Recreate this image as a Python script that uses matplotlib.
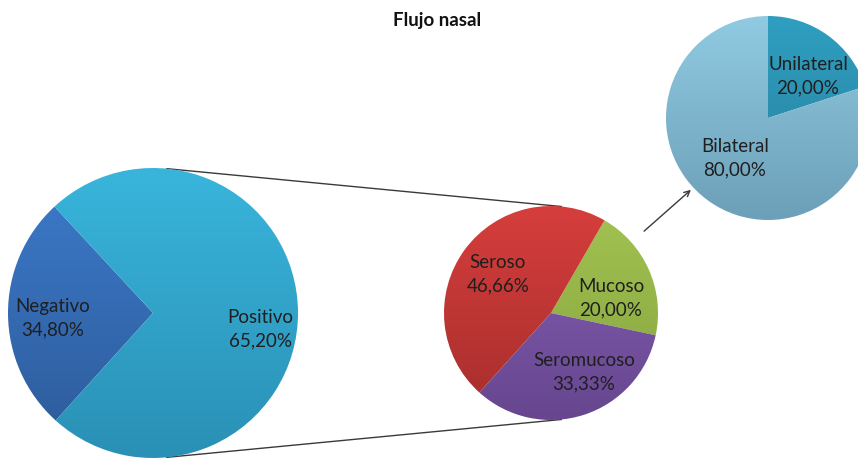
import numpy as np
import matplotlib.pyplot as plt
from matplotlib.colors import to_rgb

plt.rcParams['font.family'] = ['Lato', 'DejaVu Sans']

title = 'Flujo nasal'

# primary pie (slice sizes as drawn in the picture, labels as printed)
main_labels = ['Negativo', 'Positivo']
main_pct = ['34,80%', '65,20%']
main_sizes = [26.4, 73.6]

# secondary pie (breakdown of Positivo)
sec_labels = ['Mucoso', 'Seromucoso', 'Seroso']
sec_pct = ['20,00%', '33,33%', '46,66%']
sec_sizes = [20.00, 33.33, 46.66]

# third pie (breakdown of Mucoso)
lat_labels = ['Unilateral', 'Bilateral']
lat_pct = ['20,00%', '80,00%']
lat_sizes = [20.0, 80.0]

H = 461  # figure height in px, used to flip y


def gradient_pie(ax, sizes, colors, center, radius, start, ccw):
    wedges, _ = ax.pie(sizes, center=center, radius=radius, startangle=start,
                       counterclock=ccw, wedgeprops=dict(linewidth=0),
                       colors=['none'] * len(sizes))
    x0, y0 = center
    for w, (top, bot) in zip(wedges, colors):
        t = np.linspace(0, 1, 200)[:, None, None]
        img = (1 - t) * np.array(to_rgb(top)) + t * np.array(to_rgb(bot))
        im = ax.imshow(img, extent=(x0 - radius, x0 + radius, y0 - radius, y0 + radius),
                       origin='upper', aspect='auto', interpolation='bilinear', zorder=1)
        im.set_clip_path(w)
    return wedges


fig = plt.figure(figsize=(8.58, 4.61), dpi=100)
ax = fig.add_axes([0, 0, 1, 1])

c1, r1 = (153, H - 313), 145
c2, r2 = (551, H - 313), 107
c3, r3 = (768, H - 118), 102

gradient_pie(ax, main_sizes, [('#3c7bcb', '#2d5a99'), ('#39b5dc', '#2a90b5')],
             c1, r1, 132.8, True)
gradient_pie(ax, sec_sizes, [('#a2c352', '#85a33d'), ('#8561b6', '#67468f'),
                             ('#d63e3c', '#a52e2d')],
             c2, r2, 60, False)
gradient_pie(ax, lat_sizes, [('#2f9fc1', '#287e9b'), ('#90cbe2', '#6c9fb8')],
             c3, r3, 90, False)

# labels
txt = dict(ha='center', va='center', fontsize=13.5, color='#1f1f1f', linespacing=1.45, zorder=3)
for (x, y), lab, p in zip([(53, 318), (260, 329)], main_labels, main_pct):
    ax.text(x, H - y, f'{lab}\n{p}', **txt)
for (x, y), lab, p in zip([(611, 298), (584, 372), (498, 274)], sec_labels, sec_pct):
    ax.text(x, H - y, f'{lab}\n{p}', **txt)
for (x, y), lab, p in zip([(808, 76), (735, 158)], lat_labels, lat_pct):
    ax.text(x, H - y, f'{lab}\n{p}', **txt)

# connector lines between primary and secondary pie (outer tangents)
d = c2[0] - c1[0]
th = np.arccos((r1 - r2) / d)
for s in (1, -1):
    a = s * th
    ax.plot([c1[0] + r1 * np.cos(a), c2[0] + r2 * np.cos(a)],
            [c1[1] + r1 * np.sin(a), c2[1] + r2 * np.sin(a)],
            color='#3a3a3a', lw=1, zorder=0)

# arrow to the third pie
ax.annotate('', xy=(693, H - 188), xytext=(642, H - 233),
            arrowprops=dict(arrowstyle='->', color='#3a3a3a', lw=1, mutation_scale=10))

ax.text(437, H - 21, title, ha='center', va='center', fontsize=13.5,
        fontweight='bold', color='#111111')

ax.set_xlim(0, 858)
ax.set_ylim(0, H)
ax.set_aspect('auto')
ax.axis('off')

fig.savefig('out.png', dpi=100, facecolor='white')
